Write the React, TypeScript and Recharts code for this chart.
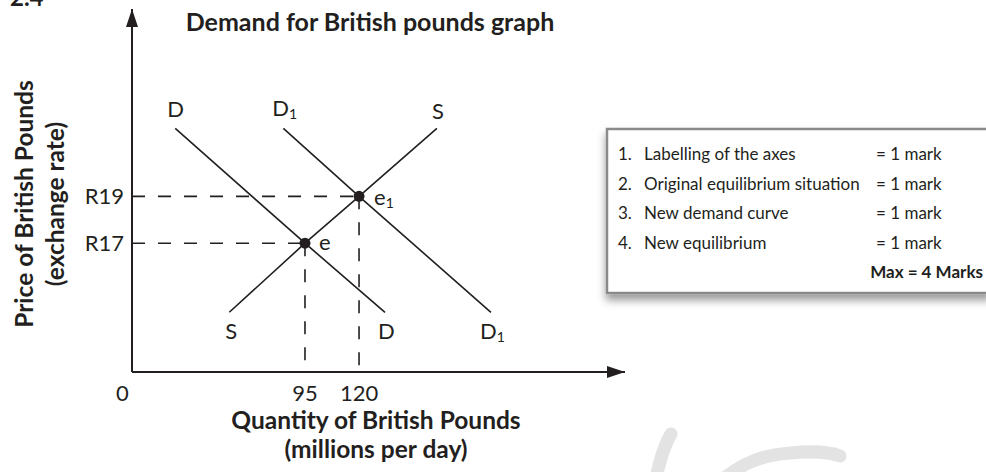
import { ComposedChart, Line, Scatter, XAxis, YAxis, ReferenceLine, ReferenceDot } from "recharts";

const INK = "#231f20";
const FONT = "Lato, 'Open Sans', sans-serif";

// price (rand per pound) and quantity (millions per day)
const priceDomain = [11.5, 27];
const quantityDomain = [15, 243];
const priceTicks = [17, 19];
const quantityTicks = [95, 120];

const demand = [
  { q: 35, p: 21.9 },
  { q: 95, p: 17 },
  { q: 132, p: 14.05 },
];
const demandNew = [
  { q: 85, p: 21.9 },
  { q: 120, p: 19 },
  { q: 181, p: 14.05 },
];
const supply = [
  { q: 60, p: 14.05 },
  { q: 95, p: 17 },
  { q: 120, p: 19 },
  { q: 156, p: 21.9 },
];
const equilibria = [
  { q: 95, p: 17, name: "e", sub: "" },
  { q: 120, p: 19, name: "e", sub: "1" },
];

const markItems = [
  "Labelling of the axes",
  "Original equilibrium situation",
  "New demand curve",
  "New equilibrium",
];
const markValues = ["= 1 mark", "= 1 mark", "= 1 mark", "= 1 mark"];
const markTotal = "Max = 4 Marks";

// text tag placed relative to a data point
const tag = (text: string, sub: string, dx: number, dy: number) => (props: any) => (
  <text x={props.cx + dx} y={props.cy + dy} fontSize={22} fill={INK} fontFamily={FONT}>
    {text}
    {sub ? (
      <tspan fontSize={14} dy={3}>
        {sub}
      </tspan>
    ) : null}
  </text>
);

const first = (a: { q: number; p: number }[]) => a[0];
const last = (a: { q: number; p: number }[]) => a[a.length - 1];

function Dot(props: any) {
  return <circle cx={props.cx} cy={props.cy} r={5.5} fill={INK} />;
}

export default function App() {
  const dash = "13 13";
  return (
    <div style={{ position: "absolute", left: 0, top: 0, width: 986, height: 472, background: "#fff", overflow: "hidden" }}>
      <svg width={986} height={472} style={{ position: "absolute", left: 0, top: 0 }}>
        <defs>
          <marker
            id="axisArrow"
            viewBox="0 0 18 12"
            refX={18}
            refY={6}
            markerWidth={18}
            markerHeight={12}
            markerUnits="userSpaceOnUse"
            orient="auto-start-reverse"
          >
            <path d="M0,0 L18,6 L0,12 z" fill={INK} />
          </marker>
          <filter id="boxShadow" x="-10%" y="-10%" width="130%" height="140%">
            <feDropShadow dx={0} dy={6} stdDeviation={4} floodColor="#000" floodOpacity={0.4} />
          </filter>
        </defs>
        {/* faint watermark strokes */}
        <g stroke="#e3e3e3" strokeWidth={13} strokeLinecap="round" fill="none">
          <path d="M656,478 C660,460 664,445 671,434" />
          <path d="M722,480 C740,465 760,455 790,453 C810,451 830,452 840,456" />
        </g>
      </svg>

      <div style={{ position: "absolute", left: 0, top: 0 }}>
        <ComposedChart width={986} height={472} margin={{ top: 9, right: 361, bottom: 70, left: 72 }}>
          <XAxis
            type="number"
            dataKey="q"
            domain={quantityDomain}
            ticks={quantityTicks}
            allowDataOverflow
            height={30}
            tickLine={false}
            tickMargin={7}
            axisLine={{ stroke: INK, strokeWidth: 2, markerEnd: "url(#axisArrow)" }}
            tick={{ fontSize: 22, fill: INK, fontFamily: FONT }}
          />
          <YAxis
            type="number"
            dataKey="p"
            domain={priceDomain}
            ticks={priceTicks}
            allowDataOverflow
            width={60}
            tickLine={false}
            tickMargin={2}
            tickFormatter={(v) => `R${v}`}
            axisLine={{ stroke: INK, strokeWidth: 2, markerStart: "url(#axisArrow)" }}
            tick={{ fontSize: 22, fill: INK, fontFamily: FONT }}
          />

          {equilibria.map((pt) => (
            <ReferenceLine
              key={`h${pt.p}`}
              segment={[{ x: quantityDomain[0], y: pt.p }, { x: pt.q, y: pt.p }]}
              stroke={INK}
              strokeWidth={1.6}
              strokeDasharray={dash}
            />
          ))}
          {equilibria.map((pt) => (
            <ReferenceLine
              key={`v${pt.q}`}
              segment={[{ x: pt.q, y: pt.p }, { x: pt.q, y: priceDomain[0] }]}
              stroke={INK}
              strokeWidth={1.6}
              strokeDasharray={dash}
            />
          ))}

          <Line data={demand} dataKey="p" type="linear" stroke={INK} strokeWidth={1.6} dot={false} isAnimationActive={false} />
          <Line data={demandNew} dataKey="p" type="linear" stroke={INK} strokeWidth={1.6} dot={false} isAnimationActive={false} />
          <Line data={supply} dataKey="p" type="linear" stroke={INK} strokeWidth={1.6} dot={false} isAnimationActive={false} />
          <Scatter data={equilibria} shape={<Dot />} isAnimationActive={false} />

          {/* curve names at both ends */}
          <ReferenceDot x={first(demand).q} y={first(demand).p} ifOverflow="visible" shape={tag("D", "", -8, -11)} />
          <ReferenceDot x={last(demand).q} y={last(demand).p} ifOverflow="visible" shape={tag("D", "", -7, 27)} />
          <ReferenceDot x={first(demandNew).q} y={first(demandNew).p} ifOverflow="visible" shape={tag("D", "1", -11, -12)} />
          <ReferenceDot x={last(demandNew).q} y={last(demandNew).p} ifOverflow="visible" shape={tag("D", "1", -11, 27)} />
          <ReferenceDot x={first(supply).q} y={first(supply).p} ifOverflow="visible" shape={tag("S", "", -4, 27)} />
          <ReferenceDot x={last(supply).q} y={last(supply).p} ifOverflow="visible" shape={tag("S", "", -5, -9)} />
          {equilibria.map((pt) => (
            <ReferenceDot
              key={`e${pt.q}`}
              x={pt.q}
              y={pt.p}
              ifOverflow="visible"
              shape={tag(pt.name, pt.sub, pt.sub ? 15 : 14, pt.sub ? 9 : 7)}
            />
          ))}
          <ReferenceDot x={quantityDomain[0]} y={priceDomain[0]} ifOverflow="visible" shape={tag("0", "", -16, 29)} />
        </ComposedChart>
      </div>

      <svg width={986} height={472} style={{ position: "absolute", left: 0, top: 0, pointerEvents: "none" }}>
        <g fontFamily={FONT} fill={INK}>
          <text x={10} y={6} fontSize={24} fontWeight={700}>
            2.4
          </text>
          <text x={370} y={31} fontSize={25} fontWeight={700} textAnchor="middle">
            Demand for British pounds graph
          </text>
          <text transform="translate(33,204) rotate(-90)" fontSize={24.5} fontWeight={700} textAnchor="middle">
            Price of British Pounds
          </text>
          <text transform="translate(64,204) rotate(-90)" fontSize={24.5} fontWeight={700} textAnchor="middle">
            (exchange rate)
          </text>
          <text x={376} y={429} fontSize={24.5} fontWeight={700} textAnchor="middle">
            Quantity of British Pounds
          </text>
          <text x={376} y={458} fontSize={24.5} fontWeight={700} textAnchor="middle">
            (millions per day)
          </text>
        </g>

        {/* marking guideline box */}
        <rect x={607} y={129} width={384} height={164} fill="#fff" stroke="#8a8a8a" strokeWidth={2.5} filter="url(#boxShadow)" />
        <g fontFamily={FONT} fill={INK} fontSize={17}>
          {markItems.map((item, i) => (
            <g key={item}>
              <text x={618} y={160 + i * 29.6}>{`${i + 1}.`}</text>
              <text x={644} y={160 + i * 29.6}>{item}</text>
              <text x={876} y={160 + i * 29.6}>{markValues[i]}</text>
            </g>
          ))}
          <text x={983} y={278} fontWeight={700} textAnchor="end">
            {markTotal}
          </text>
        </g>
      </svg>
    </div>
  );
}
